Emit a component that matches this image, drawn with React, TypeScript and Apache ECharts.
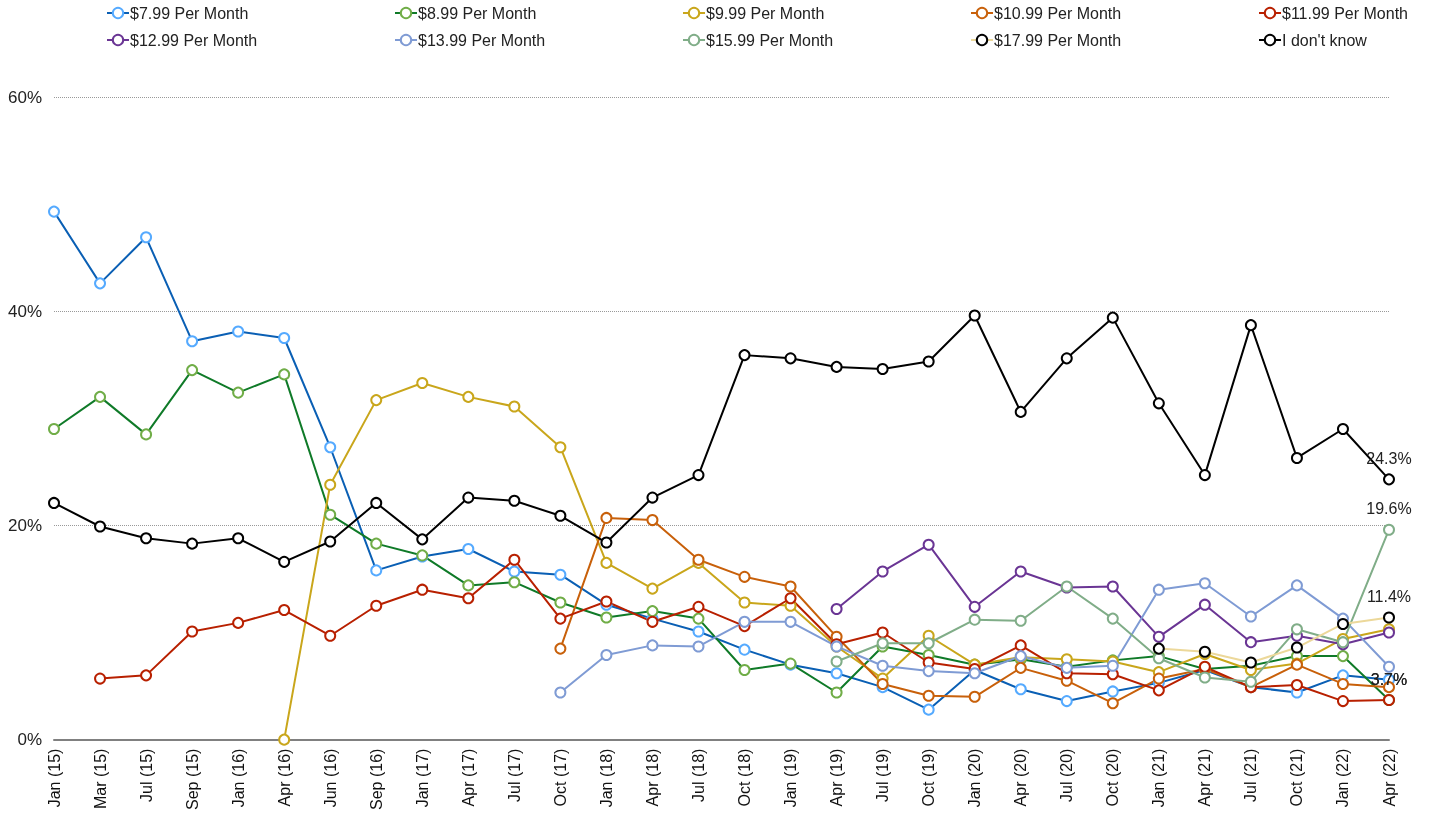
import React, { useEffect, useRef } from "react";
import * as echarts from "echarts";

const categories = [
  "Jan (15)", "Mar (15)", "Jul (15)", "Sep (15)", "Jan (16)", "Apr (16)", "Jun (16)", "Sep (16)",
  "Jan (17)", "Apr (17)", "Jul (17)", "Oct (17)", "Jan (18)", "Apr (18)", "Jul (18)", "Oct (18)",
  "Jan (19)", "Apr (19)", "Jul (19)", "Oct (19)", "Jan (20)", "Apr (20)", "Jul (20)", "Oct (20)",
  "Jan (21)", "Apr (21)", "Jul (21)", "Oct (21)", "Jan (22)", "Apr (22)",
];

const N = null;

const p799 = [49.3, 42.6, 46.9, 37.2, 38.1, 37.5, 27.3, 15.8, 17.1, 17.8, 15.7, 15.4, 12.6, 11.3, 10.1, 8.4, 7.0, 6.2, 4.9, 2.8, 6.5, 4.7, 3.6, 4.5, 5.3, 6.5, 4.9, 4.4, 6.0, 5.6];
const p899 = [29.0, 32.0, 28.5, 34.5, 32.4, 34.1, 21.0, 18.3, 17.2, 14.4, 14.7, 12.8, 11.4, 12.0, 11.3, 6.5, 7.1, 4.4, 8.7, 7.9, 7.0, 7.5, 6.8, 7.4, 7.8, 6.6, 6.9, 7.8, 7.8, 3.7];
const p999 = [N, N, N, N, N, 0.0, 23.8, 31.7, 33.3, 32.0, 31.1, 27.3, 16.5, 14.1, 16.5, 12.8, 12.5, 8.7, 5.7, 9.7, 7.0, 7.7, 7.5, 7.3, 6.3, 8.0, 6.5, 7.1, 9.4, 10.3];
const p1099 = [N, N, N, N, N, N, N, N, N, N, N, 8.5, 20.7, 20.5, 16.8, 15.2, 14.3, 9.6, 5.2, 4.1, 4.0, 6.7, 5.5, 3.4, 5.7, 6.6, 4.9, 7.0, 5.2, 4.9];
const p1199 = [N, 5.7, 6.0, 10.1, 10.9, 12.1, 9.7, 12.5, 14.0, 13.2, 16.8, 11.3, 12.9, 11.0, 12.4, 10.6, 13.2, 8.9, 10.0, 7.2, 6.6, 8.8, 6.2, 6.1, 4.6, 6.8, 4.9, 5.1, 3.6, 3.7];
const p1299 = [N, N, N, N, N, N, N, N, N, N, N, N, N, N, N, N, N, 12.2, 15.7, 18.2, 12.4, 15.7, 14.2, 14.3, 9.6, 12.6, 9.1, 9.7, 8.9, 10.0];
const p1399 = [N, N, N, N, N, N, N, N, N, N, N, 4.4, 7.9, 8.8, 8.7, 11.0, 11.0, 8.7, 6.9, 6.4, 6.2, 7.8, 6.7, 6.9, 14.0, 14.6, 11.5, 14.4, 11.3, 6.8];
const p1599 = [N, N, N, N, N, N, N, N, N, N, N, N, N, N, N, N, N, 7.3, 9.0, 9.0, 11.2, 11.1, 14.3, 11.3, 7.6, 5.8, 5.4, 10.3, 9.1, 19.6];
const p1799 = [N, N, N, N, N, N, N, N, N, N, N, N, N, N, N, N, N, N, N, N, N, N, N, N, 8.5, 8.2, 7.2, 8.6, 10.8, 11.4];
const dontKnow = [22.1, 19.9, 18.8, 18.3, 18.8, 16.6, 18.5, 22.1, 18.7, 22.6, 22.3, 20.9, 18.4, 22.6, 24.7, 35.9, 35.6, 34.8, 34.6, 35.3, 39.6, 30.6, 35.6, 39.4, 31.4, 24.7, 38.7, 26.3, 29.0, 24.3];

const seriesNames = [
  "$7.99 Per Month", "$8.99 Per Month", "$9.99 Per Month", "$10.99 Per Month", "$11.99 Per Month",
  "$12.99 Per Month", "$13.99 Per Month", "$15.99 Per Month", "$17.99 Per Month", "I don't know",
];
const seriesData = [p799, p899, p999, p1099, p1199, p1299, p1399, p1599, p1799, dontKnow];
const lineColors = ["#0a5fb4", "#0f7a28", "#c9a61b", "#c8600a", "#b82000", "#6a3594", "#7f9bd4", "#80ad88", "#ecd89a", "#000000"];
const markerColors = ["#55aaff", "#70ad47", "#c9a61b", "#c8600a", "#b82000", "#6a3594", "#7f9bd4", "#80ad88", "#000000", "#000000"];
const labelledLast = [false, true, false, false, true, false, false, true, true, true];

const FONT = "Liberation Sans, Arial, sans-serif";

export default function App() {
  const ref = useRef<HTMLDivElement>(null);
  useEffect(() => {
    if (!ref.current) return;
    const chart = echarts.init(ref.current, undefined, { renderer: "svg" });
    const legends = seriesNames.map((name, i) => ({
      data: [name],
      left: 106 + (i % 5) * 288,
      top: i < 5 ? 5 : 32,
      padding: 0,
      itemWidth: 22,
      itemHeight: 13,
      itemGap: 0,
      textStyle: { fontFamily: FONT, fontSize: 16, color: "#222", padding: [0, 0, 0, -4] },
      selectedMode: false,
    }));
    chart.setOption({
      animation: false,
      textStyle: { fontFamily: FONT },
      legend: legends,
      grid: { left: 54, right: 42, top: 97, bottom: 72, containLabel: false },
      xAxis: {
        type: "category",
        data: categories,
        boundaryGap: false,
        axisLine: { lineStyle: { color: "#808080", width: 2 } },
        axisTick: { show: false },
        axisLabel: { rotate: 90, fontSize: 16, color: "#111", margin: 9, interval: 0, fontFamily: FONT },
        splitLine: { show: false },
      },
      yAxis: {
        type: "value",
        min: 0,
        max: 60,
        interval: 20,
        axisLine: { show: false },
        axisTick: { show: false },
        axisLabel: { formatter: "{value}%", fontSize: 17, color: "#222", margin: 12, fontFamily: FONT },
        splitLine: { lineStyle: { color: "#999", type: "dotted", width: 1 } },
      },
      series: seriesNames.map((name, i) => ({
        name,
        type: "line",
        data: seriesData[i].map((v, j) => {
          if (v === null) return "-";
          if (labelledLast[i] && j === seriesData[i].length - 1) {
            return {
              value: v,
              label: {
                show: true,
                position: "top",
                distance: 7,
                formatter: (p: any) => p.value.toFixed(1) + "%",
                fontSize: 16,
                color: "#222",
                fontFamily: FONT,
              },
            };
          }
          return v;
        }),
        symbol: "circle",
        symbolSize: 10,
        showAllSymbol: true,
        lineStyle: { color: lineColors[i], width: 2 },
        itemStyle: { color: "#ffffff", borderColor: markerColors[i], borderWidth: 2 },
        emphasis: { disabled: true },
        connectNulls: false,
      })),
    });
    return () => chart.dispose();
  }, []);
  return (
    <div
      ref={ref}
      style={{ position: "fixed", left: 0, top: 0, width: 1431, height: 813 }}
    />
  );
}
